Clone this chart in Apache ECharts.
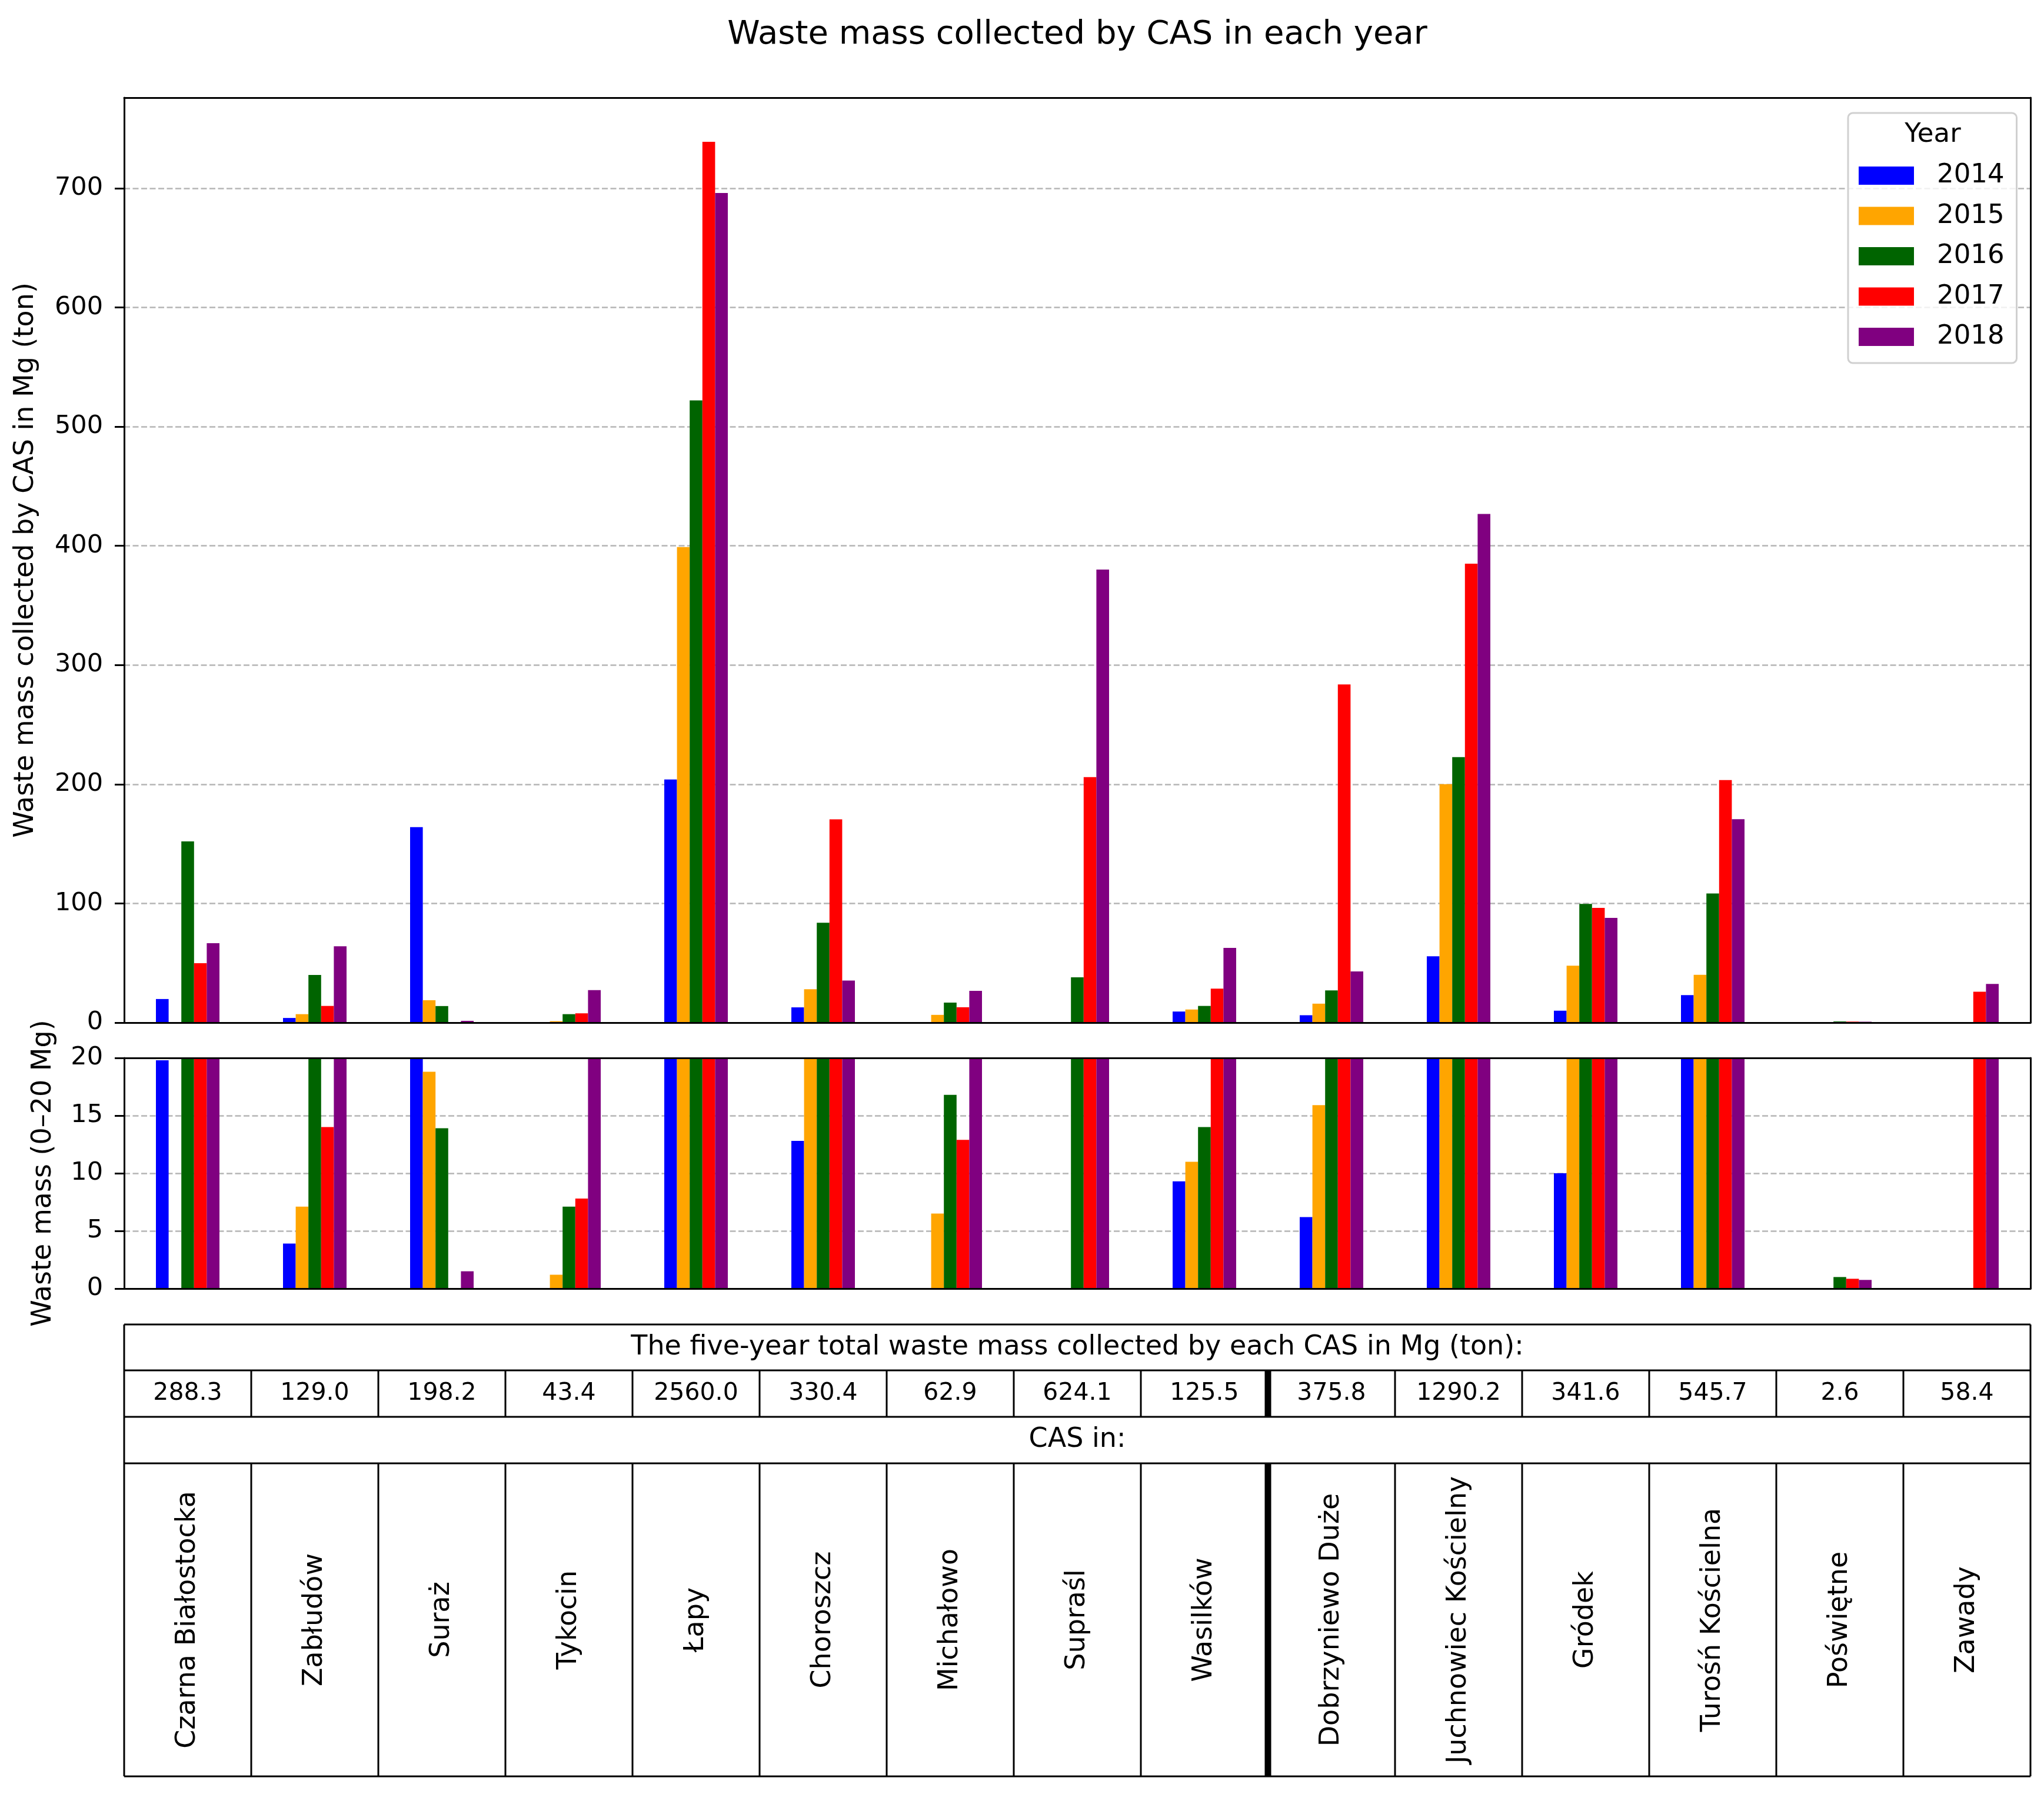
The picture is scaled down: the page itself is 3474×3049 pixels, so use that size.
<!DOCTYPE html>
<html>
<head>
<meta charset="utf-8">
<script src="https://cdn.jsdelivr.net/npm/echarts@6.0.0/dist/echarts.min.js"></script>
<style>
  html, body { margin: 0; padding: 0; background: #fff; }
  #chart { width: 3474px; height: 3049px; }
</style>
</head>
<body>
<div id="chart"></div>
<script>
// data
const categories = ['Czarna Białostocka', 'Zabłudów', 'Suraż', 'Tykocin', 'Łapy', 'Choroszcz', 'Michałowo',
  'Supraśl', 'Wasilków', 'Dobrzyniewo Duże', 'Juchnowiec Kościelny', 'Gródek', 'Turośń Kościelna', 'Poświętne', 'Zawady'];
const years = ['2014', '2015', '2016', '2017', '2018'];
const mass2014 = [19.8, 3.9, 164.0, 0, 204, 12.8, 0, 0, 9.3, 6.2, 55.7, 10.0, 23.1, 0, 0];
const mass2015 = [0, 7.1, 18.8, 1.2, 399, 28.0, 6.5, 0, 11.0, 15.9, 200, 47.8, 40.1, 0, 0];
const mass2016 = [152, 40, 13.9, 7.1, 522, 83.8, 16.8, 38, 14.0, 27.0, 222.8, 99.6, 108.3, 1.0, 0];
const mass2017 = [49.8, 14.0, 0, 7.8, 739, 170.5, 12.9, 206, 28.5, 283.7, 385, 96.3, 203.5, 0.85, 25.9];
const mass2018 = [66.7, 64.0, 1.5, 27.3, 696, 35.3, 26.7, 380.1, 62.7, 43.0, 426.7, 87.9, 170.7, 0.75, 32.5];
const totals = [288.3, 129.0, 198.2, 43.4, 2560.0, 330.4, 62.9, 624.1, 125.5, 375.8, 1290.2, 341.6, 545.7, 2.6, 58.4];
const topTicks = [0, 100, 200, 300, 400, 500, 600, 700];
const bottomTicks = [0, 5, 10, 15, 20];

const yearData = [mass2014, mass2015, mass2016, mass2017, mass2018];
const colors = ['#0000ff', '#ffa500', '#006400', '#ff0000', '#800080'];

// layout
const FONT = 'DejaVu Sans';
const L = 211, W = 3240;
const TOP1 = 166, H1 = 1572;
const TOP2 = 1798, H2 = 392;
const TOP_MAX = 776;
const rows = [2251, 2329, 2408, 2487, 3019];
const colW = W / categories.length;
const LW = 3;

const chart = echarts.init(document.getElementById('chart'));

function frameX(grid, pos) {
  return {
    type: 'category', gridIndex: grid, position: pos, data: categories, z: 10,
    axisLine: { show: true, onZero: false, lineStyle: { color: '#000', width: LW } },
    axisTick: { show: false }, axisLabel: { show: false }, splitLine: { show: false }
  };
}

function leftY(grid, max, interval, ticks, name, gap) {
  return {
    type: 'value', gridIndex: grid, position: 'left', min: 0, max: max, interval: interval,
    name: name, nameLocation: 'middle', nameGap: gap,
    nameTextStyle: { fontFamily: FONT, fontSize: 46, color: '#000' },
    axisLine: { show: true, onZero: false, lineStyle: { color: '#000', width: LW } },
    axisTick: { show: true, length: 16, customValues: ticks, lineStyle: { color: '#000', width: LW } },
    axisLabel: { fontFamily: FONT, fontSize: 43, color: '#000', margin: 36, customValues: ticks },
    splitLine: { show: true, lineStyle: { color: '#b5b5b5', width: 2.5, type: [10, 4.5] } }
  };
}

function rightY(grid, max) {
  return {
    type: 'value', gridIndex: grid, position: 'right', min: 0, max: max, z: 10,
    axisLine: { show: true, onZero: false, lineStyle: { color: '#000', width: LW } },
    axisTick: { show: false }, axisLabel: { show: false }, splitLine: { show: false }
  };
}

const series = [];
years.forEach((y, i) => {
  [0, 1].forEach(g => {
    series.push({
      name: y, type: 'bar',
      xAxisIndex: g * 2, yAxisIndex: g * 2,
      data: yearData[i],
      itemStyle: { color: colors[i] },
      barGap: '0%', barCategoryGap: '50%',
      clip: true
    });
  });
});

// table below the plots
const graphics = [];
const line = (x1, y1, x2, y2, w) => graphics.push({
  type: 'line', silent: true, z: 20,
  shape: { x1, y1, x2, y2 },
  style: { stroke: '#000', lineWidth: w || LW }
});
const text = (str, x, y, size, rot) => graphics.push({
  type: 'text', silent: true, z: 20, x, y, rotation: rot || 0,
  style: {
    text: str, fontFamily: FONT, fontSize: size, fill: '#000',
    align: 'center', verticalAlign: 'middle', textAlign: 'center', textVerticalAlign: 'middle'
  }
});

rows.forEach(r => line(L, r, L + W, r));
line(L, rows[0], L, rows[4]);
line(L + W, rows[0], L + W, rows[4]);
for (let i = 1; i < categories.length; i++) {
  const x = L + i * colW;
  const w = i === 9 ? 11 : LW;
  line(x, rows[1], x, rows[2], w);
  line(x, rows[3], x, rows[4], w);
}
text('The five-year total waste mass collected by each CAS in Mg (ton):', L + W / 2, (rows[0] + rows[1]) / 2, 46);
text('CAS in:', L + W / 2, (rows[2] + rows[3]) / 2, 46);
categories.forEach((c, i) => {
  const cx = L + (i + 0.5) * colW;
  text(totals[i].toFixed(1), cx, (rows[1] + rows[2]) / 2, 41);
  text(c, cx, (rows[3] + rows[4]) / 2, 46, Math.PI / 2);
});
// legend title
text('Year', 3285, 229, 45);

chart.setOption({
  backgroundColor: '#fff',
  animation: false,
  title: {
    text: 'Waste mass collected by CAS in each year',
    left: L + W / 2, top: 31, textAlign: 'center', padding: 0,
    textStyle: { fontFamily: FONT, fontSize: 56, fontWeight: 'normal', color: '#000' }
  },
  legend: {
    data: years, orient: 'vertical',
    left: 3141, top: 192,
    padding: [84, 21, 22, 18],
    itemWidth: 94, itemHeight: 31, itemGap: 23.5,
    icon: 'rect',
    backgroundColor: 'rgba(255,255,255,0.8)',
    borderColor: '#d0d0d0', borderWidth: 3, borderRadius: 8,
    textStyle: { fontFamily: FONT, fontSize: 45, color: '#000', padding: [0, 0, 0, 34] }
  },
  grid: [
    { left: L, top: TOP1, width: W, height: H1, containLabel: false },
    { left: L, top: TOP2, width: W, height: H2, containLabel: false }
  ],
  xAxis: [frameX(0, 'bottom'), frameX(0, 'top'), frameX(1, 'bottom'), frameX(1, 'top')],
  yAxis: [
    leftY(0, TOP_MAX, 100, topTicks, 'Waste mass collected by CAS in Mg (ton)', 144),
    rightY(0, TOP_MAX),
    leftY(1, 20, 5, bottomTicks, 'Waste mass (0–20 Mg)', 114),
    rightY(1, 20)
  ],
  series: series,
  graphic: { elements: graphics }
});
</script>
</body>
</html>
